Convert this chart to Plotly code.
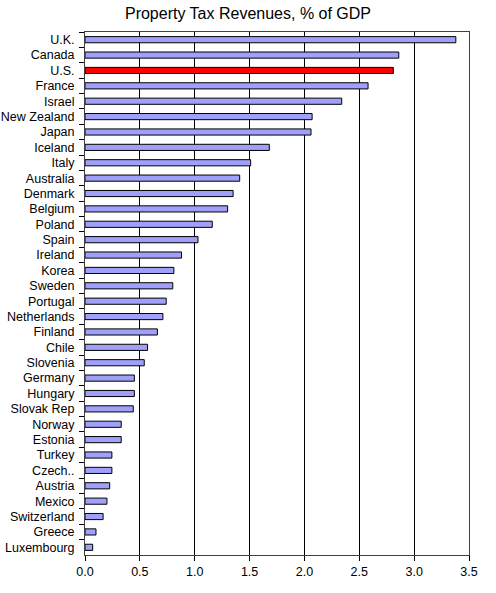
import plotly.graph_objects as go

# Property tax revenues as % of GDP, top to bottom as in the chart
countries = ["U.K.", "Canada", "U.S.", "France", "Israel", "New Zealand", "Japan",
             "Iceland", "Italy", "Australia", "Denmark", "Belgium", "Poland", "Spain",
             "Ireland", "Korea", "Sweden", "Portugal", "Netherlands", "Finland", "Chile",
             "Slovenia", "Germany", "Hungary", "Slovak Rep", "Norway", "Estonia", "Turkey",
             "Czech..", "Austria", "Mexico", "Switzerland", "Greece", "Luxembourg"]
revenues = [3.38, 2.86, 2.81, 2.58, 2.34, 2.07, 2.06,
            1.68, 1.51, 1.41, 1.35, 1.30, 1.16, 1.03,
            0.88, 0.81, 0.80, 0.74, 0.71, 0.66, 0.57,
            0.54, 0.45, 0.45, 0.44, 0.33, 0.33, 0.245,
            0.245, 0.225, 0.20, 0.165, 0.10, 0.07]
highlight = "U.S."

colors = ["#ff0000" if c == highlight else "#a0a0fa" for c in countries]

fig = go.Figure()
fig.add_trace(go.Bar(x=revenues, y=countries, orientation="h", width=0.4,
                     marker=dict(color=colors, line=dict(color="black", width=1)),
                     showlegend=False))

fig.update_layout(
    width=496, height=593,
    margin=dict(l=85, r=27, t=32, b=38),
    paper_bgcolor="white", plot_bgcolor="white",
    font=dict(family="Liberation Sans, Arial, sans-serif", size=12.5, color="black"),
    title=dict(text="Property Tax Revenues, % of GDP", x=0.5, xanchor="center",
               y=0.978, yanchor="middle", font=dict(size=16)),
)
fig.update_xaxes(range=[0, 3.5], dtick=0.5, tickformat=".1f",
                 showgrid=True, gridcolor="black", gridwidth=1,
                 ticks="outside", ticklen=5, tickcolor="black",
                 showline=True, linecolor="#404040", linewidth=1, mirror=True,
                 zeroline=False)
fig.update_yaxes(autorange="reversed", tickson="boundaries", automargin=False,
                 ticks="outside", ticklen=5, tickcolor="black", ticklabelstandoff=7,
                 showline=True, linecolor="#404040", linewidth=1, mirror=True,
                 showgrid=False)

# drop the page's default 8px body margin so the figure sits at the window corner
fig.write_html("out.html", config={"displayModeBar": False},
               post_script="document.body.style.margin='0px';")
